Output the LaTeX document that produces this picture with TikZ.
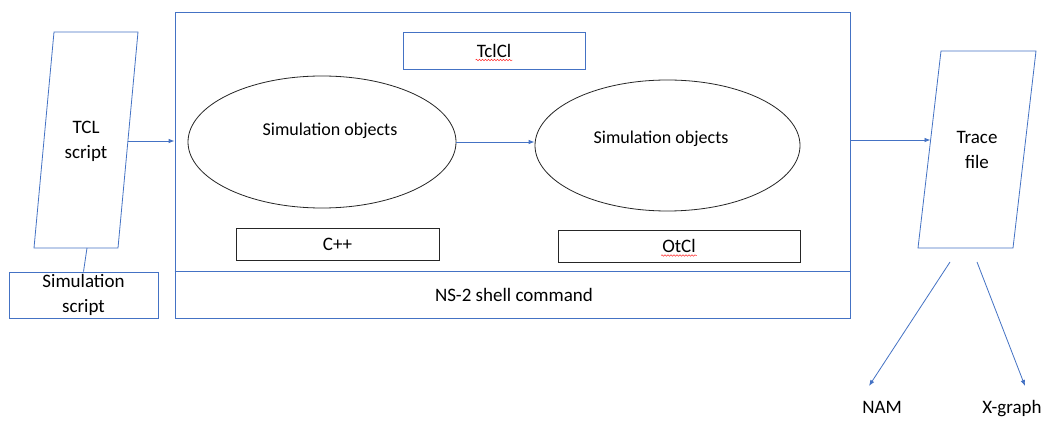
\documentclass[tikz,border=0pt]{standalone}
\usepackage{fontspec}
\setmainfont{Carlito}
\usetikzlibrary{arrows.meta,shapes.geometric,decorations.pathmorphing}
\definecolor{lineblue}{RGB}{68,114,196}

\begin{document}
\begin{tikzpicture}[x=1pt,y=-1pt,>={Latex[length=6pt,width=4.5pt]}]
	\tikzstyle{bluebox} = [rectangle,draw=lineblue,line width=0.8pt,inner sep=0pt]
	\tikzstyle{blackbox} = [rectangle,draw=black!85,line width=0.8pt,inner sep=0pt]
	\tikzstyle{obj} = [ellipse,draw=black!85,line width=0.8pt,inner sep=0pt]
	\tikzstyle{txt} = [font=\fontsize{19}{25}\selectfont,align=center,inner sep=1pt]
	\tikzstyle{smalltxt} = [font=\fontsize{18}{22}\selectfont,align=center,inner sep=1pt]
	\tikzstyle{flow} = [->,draw=lineblue,line width=0.8pt]
	\tikzstyle{squiggle} = [draw=red!80,line width=0.5pt,decorate,decoration={snake,amplitude=0.8pt,segment length=3pt}]
	\path[fill=white,use as bounding box] (0,0) rectangle (1050,430);
	% script on the left
	\draw[lineblue,line width=0.8pt] (54,32) -- (138,32) -- (118,248) -- (34,248) -- cycle;
	\node[txt] (tcl) at (86,141) {TCL\\script};
	\coordinate (tclout) at (128,141);
	\coordinate (tclfoot) at (87,248);
	\node[bluebox,txt,minimum width=149pt,minimum height=46pt] (simscript) at (83.5,295) {Simulation\\script};
	\draw[lineblue,line width=0.8pt] (tclfoot) -- (simscript.north);
	% simulator
	\node[bluebox,minimum width=675pt,minimum height=306pt] (ns) at (512.5,165) {};
	\draw[lineblue,line width=0.8pt] (ns.west |- 0,271) -- (ns.east |- 0,271);
	\node[txt] (shell) at (514,295) {NS-2 shell command};
	\node[bluebox,minimum width=182pt,minimum height=37pt] (tclclbox) at (494,50.5) {};
	\node[txt] (tclcl) at (tclclbox) {TclCl};
	\draw[squiggle] ([yshift=-3pt]tclcl.base west) -- ([yshift=-3pt]tclcl.base east);
	\node[obj,minimum width=268pt,minimum height=132pt] (obj1) at (322,142) {};
	\node[smalltxt] (obj1txt) at (330,131) {Simulation objects};
	\node[obj,minimum width=265pt,minimum height=131pt] (obj2) at (667.5,145.5) {};
	\node[smalltxt] (obj2txt) at (661,139) {Simulation objects};
	\draw[flow] (obj1.east) -- (obj1.east -| obj2.west);
	\node[blackbox,minimum width=203pt,minimum height=32pt] (cppbox) at (337.5,244) {};
	\node[txt] (cpp) at (cppbox) {C++};
	\node[blackbox,minimum width=242pt,minimum height=32pt] (otclbox) at (679,246) {};
	\node[txt] (otcl) at (otclbox) {OtCl};
	\draw[squiggle] ([yshift=-3pt]otcl.base west) -- ([yshift=-3pt]otcl.base east);
	\draw[flow] (tclout) -- (ns.west |- tclout);
	% trace file on the right
	\draw[lineblue,line width=0.8pt] (941,51) -- (1036,51) -- (1013,248) -- (918,248) -- cycle;
	\node[txt] (trace) at (977,150) {Trace\\file};
	\coordinate (tracein) at (930.5,140);
	\draw[flow] (ns.east |- tracein) -- (tracein);
	% outputs
	\coordinate (namfrom) at (950,262);
	\coordinate (namto) at (869,386);
	\coordinate (xgfrom) at (977,262);
	\coordinate (xgto) at (1025,386);
	\draw[flow] (namfrom) -- (namto);
	\draw[flow] (xgfrom) -- (xgto);
	\node[txt] (nam) at (882,407) {NAM};
	\node[txt] (xgraph) at (1012,409) {X-graph};
\end{tikzpicture}
\end{document}
